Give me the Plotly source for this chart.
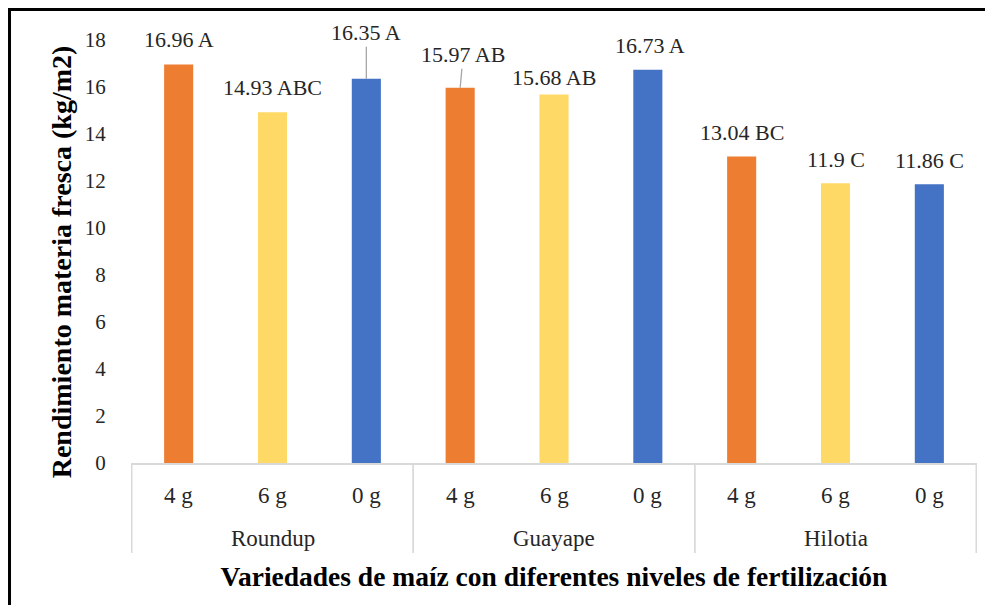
import plotly.graph_objects as go

# Datos
variedades = ["Roundup", "Roundup", "Roundup",
              "Guayape", "Guayape", "Guayape",
              "Hilotia", "Hilotia", "Hilotia"]
niveles = ["4 g", "6 g", "0 g"] * 3
rendimiento = [16.96, 14.93, 16.35, 15.97, 15.68, 16.73, 13.04, 11.90, 11.86]
letras = ["A", "ABC", "A", "AB", "AB", "A", "BC", "C", "C"]

# estilo
colores_nivel = {"4 g": "#ED7D31", "6 g": "#FFD966", "0 g": "#4472C4"}
FUENTE = "Liberation Serif, Times New Roman, serif"
TEXTO = "#262626"
GRIS = "#D9D9D9"

# desplazamiento de etiquetas (px) y lineas guia
etiqueta_dx = [0, 0, 0, 3, 0, 2, 0, 0, 0]
etiqueta_dy = [-25, -25, -46, -33, -17, -24, -24, -24, -24]
linea_guia = [False, False, True, True, False, False, False, False, False]

fig = go.Figure(go.Bar(
    x=[variedades, niveles],
    y=rendimiento,
    marker=dict(color=[colores_nivel[n] for n in niveles], line=dict(width=0)),
    hovertemplate='%{x}: %{y}<extra></extra>'
))

# Etiquetas de datos
for i, (v, l) in enumerate(zip(rendimiento, letras)):
    fig.add_annotation(
        x=i, y=v, xref="x", yref="y",
        text=f"{v:g} {l}",
        showarrow=True,
        arrowhead=0,
        arrowwidth=1.3,
        arrowcolor="#A6A6A6" if linea_guia[i] else "rgba(0,0,0,0)",
        standoff=0,
        ax=etiqueta_dx[i], ay=etiqueta_dy[i],
        font=dict(family=FUENTE, size=22, color=TEXTO),
    )

# Eje x jerarquico como en Excel: niveles, variedades y divisores
for i, n in enumerate(niveles):
    fig.add_annotation(x=i, y=0, xref="x", yref="paper", text=n,
                       showarrow=False, yanchor="middle", yshift=-32,
                       font=dict(family=FUENTE, size=23, color=TEXTO))
for var in dict.fromkeys(variedades):
    idx = [i for i, v in enumerate(variedades) if v == var]
    fig.add_annotation(x=sum(idx) / len(idx), y=0, xref="x", yref="paper",
                       text=var, showarrow=False, yanchor="middle", yshift=-75,
                       font=dict(family=FUENTE, size=23, color=TEXTO))
    for borde in (idx[0] - 0.5, idx[-1] + 0.5):
        fig.add_shape(type="line", xref="x", yref="paper",
                      x0=borde, x1=borde, y0=0, y1=-0.213,
                      line=dict(color=GRIS, width=1.5))

# la pagina deja 8 px de margen alrededor de la figura
fig.update_layout(
    width=985,
    height=597,
    paper_bgcolor="white",
    plot_bgcolor="white",
    bargap=0.69,
    showlegend=False,
    margin=dict(t=32, b=142, l=123, r=16),
    font=dict(family=FUENTE, size=21, color=TEXTO),
)

fig.update_yaxes(
    range=[0, 18],
    dtick=2,
    showgrid=False,
    zeroline=False,
    showline=False,
    ticks="outside",
    ticklen=20,
    tickcolor="rgba(0,0,0,0)",
    tickfont=dict(family=FUENTE, size=21, color=TEXTO),
    title=dict(text="<b>Rendimiento materia fresca (kg/m2)</b>&nbsp;&nbsp;&nbsp;",
               font=dict(family=FUENTE, size=28, color="black"),
               standoff=4),
)

fig.update_xaxes(
    showgrid=False,
    showline=True,
    linecolor=GRIS,
    linewidth=1.5,
    showticklabels=False,
    ticks="",
    title=dict(text="<b>Variedades de maíz con diferentes niveles de fertilización</b>",
               font=dict(family=FUENTE, size=27.5, color="black"),
               standoff=103),
)

# Marco negro del grafico
fig.add_shape(type="rect", xref="paper", yref="paper",
              x0=-0.1436, x1=1.1, y0=1.0721, y1=-0.4,
              line=dict(color="black", width=3), fillcolor="rgba(0,0,0,0)",
              layer="above")

fig.write_html("out.html")
